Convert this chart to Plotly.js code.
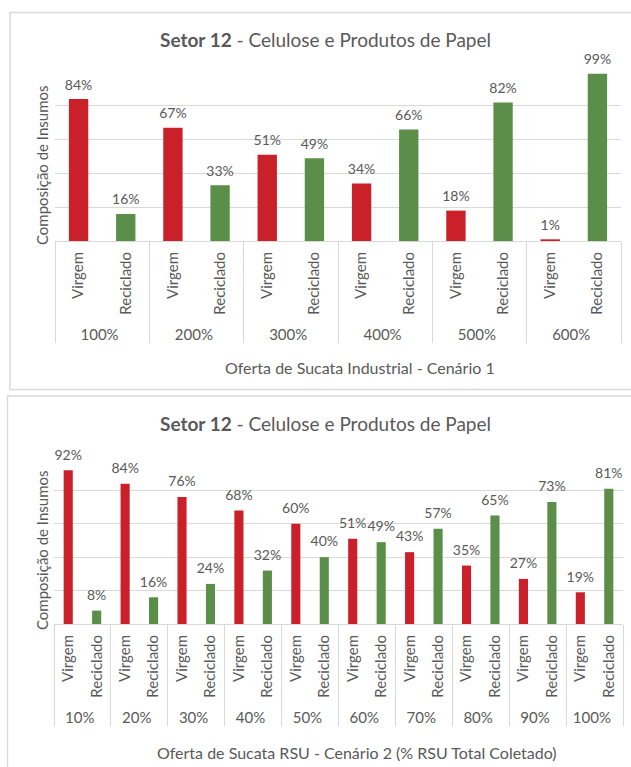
<!DOCTYPE html>
<html>
<head>
<meta charset="utf-8">
<script src="https://cdn.plot.ly/plotly-3.0.1.min.js"></script>
<style>html,body{margin:0;padding:0;background:#fff;}#chart{width:631px;height:767px;}</style>
</head>
<body>
<div id="chart"></div>
<script>
// ---- Data ----
const subcats = ['Virgem', 'Reciclado'];

const groups1 = ['100%', '200%', '300%', '400%', '500%', '600%'];
const virgem1 = [84, 67, 51, 34, 18, 1];
const reciclado1 = [16, 33, 49, 66, 82, 99];

const groups2 = ['10%', '20%', '30%', '40%', '50%', '60%', '70%', '80%', '90%', '100%'];
const virgem2 = [92, 84, 76, 68, 60, 51, 43, 35, 27, 19];
const reciclado2 = [8, 16, 24, 32, 40, 49, 57, 65, 73, 81];

const chartTitle = '<b>Setor 12</b> - Celulose e Produtos de Papel';
const yTitle = 'Composição de Insumos';
const xTitle1 = 'Oferta de Sucata Industrial - Cenário 1';
const xTitle2 = 'Oferta de Sucata RSU - Cenário 2 (% RSU Total Coletado)';

// ---- Style ----
const RED = '#C9202A';
const GREEN = '#5B8E48';
const GRAY = '#D9D9D9';
const TXT = '#595959';
const FONT = 'Lato, "Open Sans", sans-serif';
const W = 631, H = 767;
const px = v => v / W;
const py = v => 1 - v / H;

function mcx(groups, sub) { return [groups, groups.map(() => sub)]; }

function barTrace(groups, vals, sub, color, xa, ya, width) {
  return {
    type: 'bar', x: mcx(groups, sub), y: vals, xaxis: xa, yaxis: ya,
    marker: { color: color }, width: width, showlegend: false, hoverinfo: 'skip'
  };
}
function labelTrace(groups, vals, sub, xa, ya, msize) {
  return {
    type: 'scatter', mode: 'markers+text', x: mcx(groups, sub), y: vals, xaxis: xa, yaxis: ya,
    text: vals.map(v => v + '%'), textposition: 'top center',
    textfont: { family: FONT, size: 14, color: TXT },
    marker: { size: msize, opacity: 0 }, cliponaxis: false, showlegend: false, hoverinfo: 'skip'
  };
}

const data = [
  barTrace(groups1, virgem1, subcats[0], RED, 'x', 'y', 0.41),
  barTrace(groups1, reciclado1, subcats[1], GREEN, 'x', 'y', 0.41),
  labelTrace(groups1, virgem1, subcats[0], 'x', 'y', 8),
  labelTrace(groups1, reciclado1, subcats[1], 'x', 'y', 8),
  barTrace(groups2, virgem2, subcats[0], RED, 'x2', 'y2', 0.32),
  barTrace(groups2, reciclado2, subcats[1], GREEN, 'x2', 'y2', 0.32),
  labelTrace(groups2, virgem2, subcats[0], 'x2', 'y2', 10),
  labelTrace(groups2, reciclado2, subcats[1], 'x2', 'y2', 10)
];

function xAxis(domain, anchor, n) {
  return {
    type: 'multicategory', domain: domain, anchor: anchor, range: [-0.5, n - 0.5],
    showline: true, linecolor: GRAY, linewidth: 1,
    showgrid: false, zeroline: false, ticks: '', tickangle: -90, ticklabelstandoff: 4,
    showdividers: true, dividercolor: GRAY, dividerwidth: 1,
    tickfont: { family: FONT, size: 15, color: TXT }, fixedrange: true
  };
}
function yAxis(domain, anchor) {
  return {
    domain: domain, anchor: anchor, range: [0, 100], dtick: 20,
    showgrid: true, gridcolor: GRAY, gridwidth: 1, zeroline: false,
    showticklabels: false, showline: false, ticks: '', fixedrange: true
  };
}

function ann(text, x, y, size, angle) {
  return {
    text: text, xref: 'paper', yref: 'paper', x: px(x), y: py(y),
    xanchor: 'center', yanchor: 'middle', showarrow: false, textangle: angle || 0,
    font: { family: FONT, size: size, color: TXT }
  };
}

const layout = {
  width: W, height: H,
  margin: { l: 0, r: 0, t: 0, b: 0 },
  paper_bgcolor: '#fff', plot_bgcolor: '#fff',
  barmode: 'overlay', showlegend: false,
  font: { family: FONT, color: TXT },
  xaxis: xAxis([px(55), px(621)], 'y', groups1.length * subcats.length),
  yaxis: yAxis([py(241), py(72)], 'x'),
  xaxis2: xAxis([px(54), px(623)], 'y2', groups2.length * subcats.length),
  yaxis2: yAxis([py(624), py(457)], 'x2'),
  annotations: [
    ann(chartTitle, 325, 40, 19),
    ann(yTitle, 42, 165, 15, -90),
    ann(xTitle1, 360, 367, 16),
    ann(chartTitle, 325, 423, 19),
    ann(yTitle, 42, 550, 15, -90),
    ann(xTitle2, 357, 752, 16)
  ],
  shapes: [
    { type: 'rect', xref: 'paper', yref: 'paper', x0: px(10), x1: 1.02, y0: py(389.5), y1: py(12.5),
      line: { color: GRAY, width: 1.5 } },
    { type: 'rect', xref: 'paper', yref: 'paper', x0: px(7.5), x1: 1.02, y0: -0.02, y1: py(396),
      line: { color: GRAY, width: 1.5 } }
  ]
};

Plotly.newPlot('chart', data, layout, { displayModeBar: false, staticPlot: true });
</script>
</body>
</html>
